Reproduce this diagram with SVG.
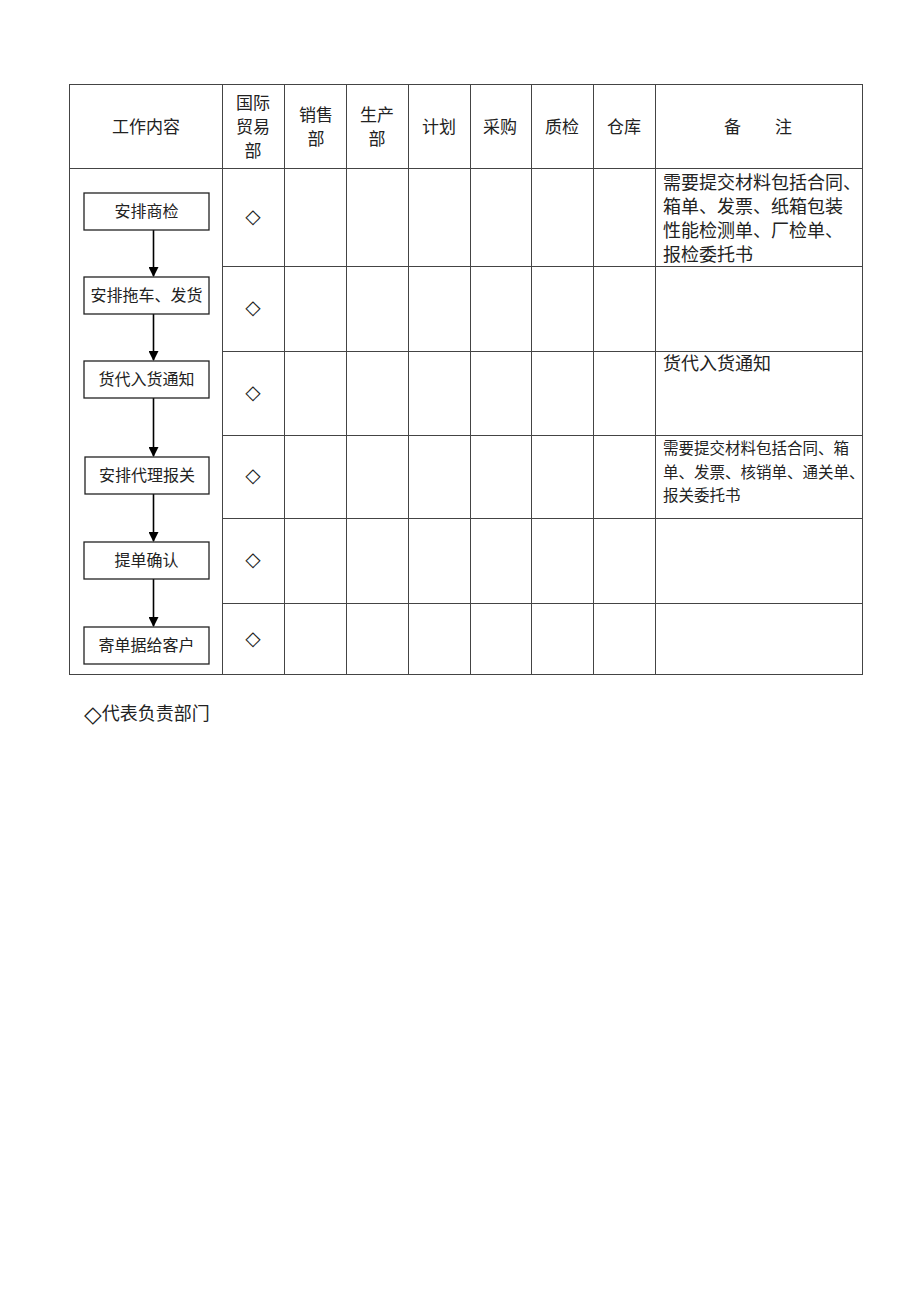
<svg xmlns="http://www.w3.org/2000/svg" width="920" height="1302" viewBox="0 0 920 1302">
<defs>
<style>
text{font-family:"Liberation Serif","Noto Sans CJK SC",serif;fill:#222;dominant-baseline:central}
.h{font-size:17px;text-anchor:middle}
.b{font-size:16px;text-anchor:middle}
.d{font-size:20px;text-anchor:middle;font-family:"DejaVu Sans",sans-serif}
.dm{font-family:"DejaVu Sans",sans-serif;font-size:23px}
.n{font-size:18px}
.n2{font-size:15.5px}
.grid{stroke:#444;stroke-width:1;fill:none}
.box{fill:#fff;stroke:#222;stroke-width:1.3}
.conn{stroke:#000;stroke-width:1.6;fill:none}
</style>
<marker id="ah" markerWidth="10" markerHeight="10" refX="9" refY="5" orient="auto" markerUnits="userSpaceOnUse">
<path d="M0,0 L10,5 L0,10 z" fill="#000"/>
</marker>
</defs>
<rect width="920" height="1302" fill="#fff"/>
<g id="table" class="grid">
<rect x="69.5" y="84.5" width="793" height="590"/>
<line x1="69.5" y1="168.5" x2="862.5" y2="168.5"/>
<line x1="222.5" y1="84.5" x2="222.5" y2="674.5"/>
<line x1="284.5" y1="84.5" x2="284.5" y2="674.5"/>
<line x1="346.5" y1="84.5" x2="346.5" y2="674.5"/>
<line x1="408.5" y1="84.5" x2="408.5" y2="674.5"/>
<line x1="470.5" y1="84.5" x2="470.5" y2="674.5"/>
<line x1="531.5" y1="84.5" x2="531.5" y2="674.5"/>
<line x1="593.5" y1="84.5" x2="593.5" y2="674.5"/>
<line x1="655.5" y1="84.5" x2="655.5" y2="674.5"/>
<line x1="222.5" y1="266.5" x2="862.5" y2="266.5"/>
<line x1="222.5" y1="351.5" x2="862.5" y2="351.5"/>
<line x1="222.5" y1="435.5" x2="862.5" y2="435.5"/>
<line x1="222.5" y1="518.5" x2="862.5" y2="518.5"/>
<line x1="222.5" y1="603.5" x2="862.5" y2="603.5"/>
</g>
<g id="header">
<text class="h" x="146" y="127">工作内容</text>
<text class="h" x="253" y="103">国际</text>
<text class="h" x="253" y="127">贸易</text>
<text class="h" x="253" y="151">部</text>
<text class="h" x="316" y="115">销售</text>
<text class="h" x="316" y="139">部</text>
<text class="h" x="377" y="115">生产</text>
<text class="h" x="377" y="139">部</text>
<text class="h" x="439" y="127">计划</text>
<text class="h" x="500" y="127">采购</text>
<text class="h" x="562" y="127">质检</text>
<text class="h" x="624" y="127">仓库</text>
<text class="h" x="758" y="127" xml:space="preserve">备　　注</text>
</g>
<g id="connectors">
<line class="conn" x1="153.5" y1="230" x2="153.5" y2="276" marker-end="url(#ah)"/>
<line class="conn" x1="153.5" y1="314" x2="153.5" y2="360" marker-end="url(#ah)"/>
<line class="conn" x1="153.5" y1="398" x2="153.5" y2="456" marker-end="url(#ah)"/>
<line class="conn" x1="153.5" y1="494" x2="153.5" y2="541" marker-end="url(#ah)"/>
<line class="conn" x1="153.5" y1="579" x2="153.5" y2="626" marker-end="url(#ah)"/>
</g>
<g id="n1"><rect class="box" x="84" y="193" width="125" height="37"/><text class="b" x="146.5" y="211.5">安排商检</text></g>
<g id="n2"><rect class="box" x="84" y="277" width="125" height="37"/><text class="b" x="146.5" y="295.5">安排拖车、发货</text></g>
<g id="n3"><rect class="box" x="84" y="361" width="125" height="37"/><text class="b" x="146.5" y="379.5">货代入货通知</text></g>
<g id="n4"><rect class="box" x="85" y="457" width="124" height="37"/><text class="b" x="147" y="475.5">安排代理报关</text></g>
<g id="n5"><rect class="box" x="84" y="542" width="125" height="37"/><text class="b" x="146.5" y="560.5">提单确认</text></g>
<g id="n6"><rect class="box" x="84" y="627" width="125" height="37"/><text class="b" x="146.5" y="645.5">寄单据给客户</text></g>
<g id="marks">
<text class="d" x="253" y="216">◇</text>
<text class="d" x="253" y="307">◇</text>
<text class="d" x="253" y="392">◇</text>
<text class="d" x="253" y="475">◇</text>
<text class="d" x="253" y="559">◇</text>
<text class="d" x="253" y="638">◇</text>
</g>
<g id="notes">
<text class="n" x="663" y="183">需要提交材料包括合同、</text>
<text class="n" x="663" y="207">箱单、发票、纸箱包装</text>
<text class="n" x="663" y="231">性能检测单、厂检单、</text>
<text class="n" x="663" y="255">报检委托书</text>
<text class="n" x="663" y="364">货代入货通知</text>
<text class="n2" x="663" y="448">需要提交材料包括合同、箱</text>
<text class="n2" x="663" y="472">单、发票、核销单、通关单、</text>
<text class="n2" x="663" y="495">报关委托书</text>
</g>
<g id="legend">
<text class="n" x="84" y="714"><tspan class="dm">◇</tspan>代表负责部门</text>
</g>
</svg>
